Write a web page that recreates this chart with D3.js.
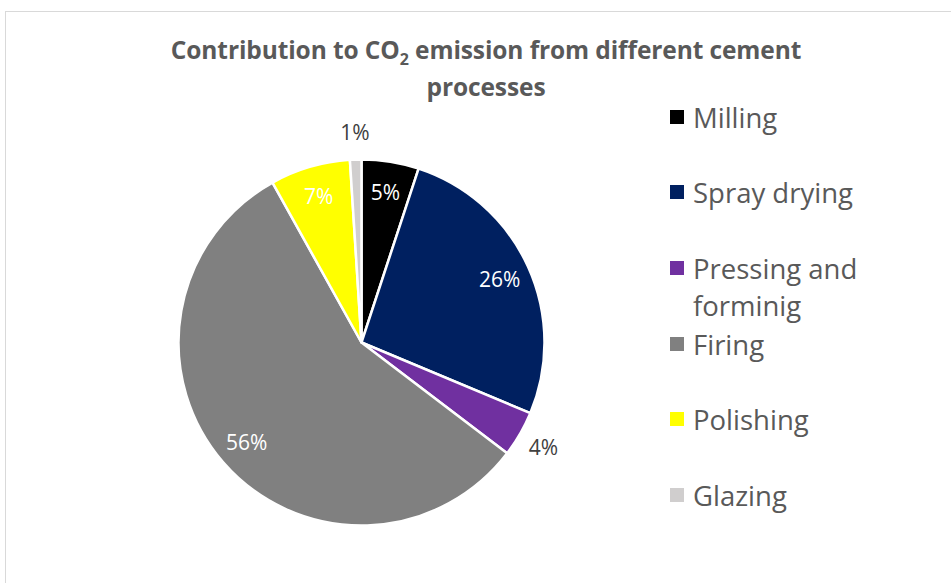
<!DOCTYPE html>
<html><head><meta charset="utf-8">
<script src="https://cdn.jsdelivr.net/npm/d3@7"></script>
<style>
html,body{margin:0;padding:0;background:#fff;}
svg{display:block;}
text{font-family:"Open Sans","Liberation Sans",sans-serif;}
</style></head>
<body>
<svg id="chart" width="951" height="583"></svg>
<script>
const categories = ["Milling","Spray drying","Pressing and forminig","Firing","Polishing","Glazing"];
const legendLines = [["Milling"],["Spray drying"],["Pressing and","forminig"],["Firing"],["Polishing"],["Glazing"]];
const values = [5, 26, 4, 56, 7, 1];
const colors = ["#000000","#002060","#7030A0","#808080","#FFFF00","#D0CECE"];
const labelInside = [true, true, false, true, true, false];

const svg = d3.select("#chart");
// chart frame
svg.append("rect").attr("x",5.5).attr("y",11.5).attr("width",960).attr("height",600)
  .attr("fill","#fff").attr("stroke","#d9d9d9").attr("stroke-width",1);

// title
const title = svg.append("text").attr("text-anchor","middle").attr("fill","#595959")
  .attr("font-weight","bold").attr("font-size",24.5).attr("letter-spacing",-0.1);
const t1 = title.append("tspan").attr("x",486).attr("y",59);
t1.append("tspan").text("Contribution to CO");
t1.append("tspan").attr("font-size",16).attr("dy",6).text("2");
t1.append("tspan").attr("dy",-6).text(" emission from different cement");
title.append("tspan").attr("x",486).attr("y",96).text("processes");

const cx = 361.5, cy = 342.5, R = 183;
const g = svg.append("g").attr("transform",`translate(${cx},${cy})`);
const pie = d3.pie().sort(null).value(d=>d.v);
const data = pie(categories.map((c,i)=>({c, v: values[i], i})));
const arc = d3.arc().innerRadius(0).outerRadius(R);
g.selectAll("path").data(data).join("path")
  .attr("d",arc).attr("fill",d=>colors[d.data.i])
  .attr("stroke","#fff").attr("stroke-width",2.5).attr("stroke-linejoin","round");

const inArc = d3.arc().innerRadius(152).outerRadius(152);
const outArc = d3.arc().innerRadius(R+27).outerRadius(R+27);
g.selectAll("text.lbl").data(data).join("text").attr("class","lbl")
  .attr("transform",d=>{const p=(labelInside[d.data.i]?inArc:outArc).centroid(d);return `translate(${p[0]},${p[1]})`;})
  .attr("text-anchor","middle").attr("dy","0.36em").attr("font-size",21)
  .attr("fill",d=>labelInside[d.data.i]?"#ffffff":"#404040")
  .text(d=>d.data.v+"%");

// legend
const legTops = [128,203,279,355,430,506];
const leg = svg.append("g");
legendLines.forEach((lines,i)=>{
  const base = legTops[i];
  leg.append("rect").attr("x",670).attr("y",base-18).attr("width",14).attr("height",14).attr("fill",colors[i]);
  const t = leg.append("text").attr("fill","#595959").attr("font-size",27.5);
  lines.forEach((l,j)=>t.append("tspan").attr("x",693).attr("y",base+j*37).text(l));
});
</script>
</body></html>
